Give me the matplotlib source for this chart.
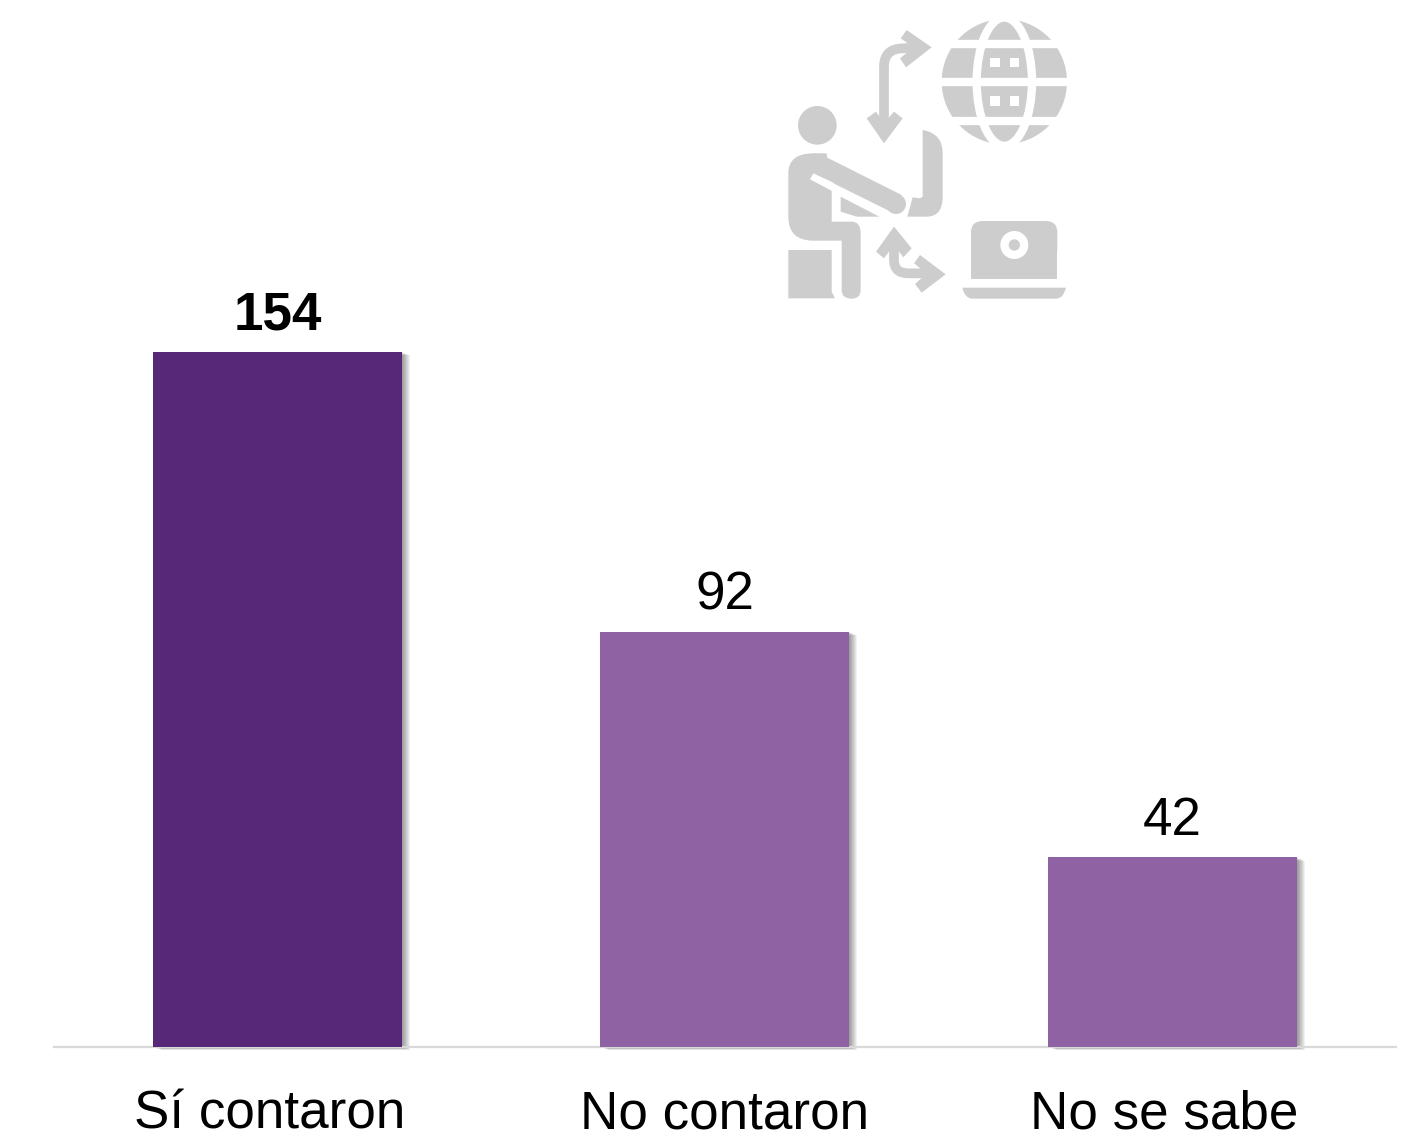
import matplotlib
matplotlib.use("Agg")
import matplotlib.pyplot as plt
from matplotlib.patches import Circle, Ellipse, Polygon, Rectangle, FancyBboxPatch, PathPatch
from matplotlib.path import Path
from matplotlib.transforms import ScaledTranslation

categories = ["Sí contaron", "No contaron", "No se sabe"]
values = [154, 92, 42]
barColors = ["#572878", "#8F62A3", "#8F62A3"]
labelWeights = ["bold", "normal", "normal"]
labelShift = [-7.5, 0, -7.5]  # px, the category labels are not quite centred

W, H = 1409, 1145
plt.rcParams["font.family"] = ["Liberation Sans", "DejaVu Sans"]

fig = plt.figure(figsize=(W / 100, H / 100), dpi=100)
ax = fig.add_axes([54 / W, 1 - 1047 / H, 1342 / W, 1047 / H])

bars = ax.bar(range(3), values, width=0.557, color=barColors, linewidth=0, zorder=3)

# soft shadow to the right of the bars, stacked offset copies
for b in bars:
    for o in range(1, 9):
        off = ax.transData + ScaledTranslation(o / 100, -o * 0.4 / 100, fig.dpi_scale_trans)
        ax.add_patch(Rectangle((b.get_x(), 0), b.get_width(), b.get_height(), fc="black", ec="none",
                               alpha=0.055, transform=off, zorder=2, clip_on=False))

ax.set_xlim(-0.4995, 2.5005)
ax.set_ylim(0, 232)
ax.set_yticks([])
for s in ["top", "left", "right"]:
    ax.spines[s].set_visible(False)
ax.spines["bottom"].set_color("#D9D9D9")
ax.spines["bottom"].set_linewidth(1.6)

ax.set_xticks(range(3), categories, fontsize=38.2, color="black")
ax.tick_params(axis="x", length=0, pad=58.6)
for t, dx in zip(ax.get_xticklabels(), labelShift):
    t.set_verticalalignment("baseline")
    t.set_transform(t.get_transform() + ScaledTranslation(dx / 100, 0, fig.dpi_scale_trans))

for i, v in enumerate(values):
    ax.annotate(str(v), (i, v), xytext=(0, 16.3), textcoords="offset points", ha="center",
                va="baseline", fontsize=38.2, fontweight=labelWeights[i], color="black")

# icon, drawn in its own axes using the coordinates of a 3x crop
ic = fig.add_axes([770 / W, 1 - 310 / H, 310 / W, 300 / H])
ic.set_xlim(0, 930)
ic.set_ylim(900, 0)
ic.axis("off")
GREY = "#CDCDCD"
M, L, C = Path.MOVETO, Path.LINETO, Path.CURVE3


def poly(points, color=GREY):
    ic.add_patch(Polygon(points, closed=True, fc=color, ec="none"))


def shape(points, codes, fc=GREY, ec="none", lw=0):
    ic.add_patch(PathPatch(Path(points, codes), fc=fc, ec=ec, lw=lw, capstyle="butt"))


def rounded(x, y, w, h, r):
    ic.add_patch(FancyBboxPatch((x, y), w, h, boxstyle=f"round,pad=0,rounding_size={r}", fc=GREY, ec="none"))


# globe
ic.add_patch(Circle((703, 215), 188, fc=GREY, ec="none"))
ic.add_patch(Ellipse((703, 215), 166, 385, fc="none", ec="white", lw=6))
for y in (102, 216, 332):
    ic.plot([500, 905], [y, y], color="white", lw=6, solid_capstyle="butt")
for x, y in [(675, 158), (733, 158), (675, 273), (733, 273)]:
    ic.add_patch(Rectangle((x - 14, y - 14), 28, 28, fc="white", ec="none"))

# person
ic.add_patch(Circle((142, 346), 58, fc=GREY, ec="none"))
shape([(55, 490), (55, 430), (130, 430), (170, 430), (185, 540), (185, 635), (245, 635), (272, 635), (272, 670),
       (272, 840), (272, 866), (245, 866), (215, 866), (215, 840), (215, 692), (130, 692), (55, 692), (55, 620),
       (55, 490)],
      [M, C, C, L, L, L, L, C, C, L, C, C, C, C, L, L, C, C, L])
poly([(130, 430), (150, 432), (395, 555), (362, 605), (130, 490)])
ic.add_patch(Circle((378, 582), 30, fc=GREY, ec="none"))
poly([(120, 508), (130, 490), (190, 518), (190, 545)], color="white")
poly([(212, 560), (328, 620), (260, 620), (212, 605)])
poly([(55, 720), (185, 720), (185, 845), (195, 865), (55, 865)])

# chair back
shape([(458, 360), (518, 370), (518, 430), (518, 560), (518, 620), (470, 620), (412, 620), (428, 562), (450, 565),
       (458, 560), (458, 360)],
      [M, C, C, L, C, C, L, L, L, L, Path.CLOSEPOLY])

# arrows
shape([(342, 340), (342, 170), (342, 115), (400, 115), (450, 112)], [M, L, C, C, L], fc="none", ec=GREY, lw=7)
poly([(485, 112), (410, 60), (392, 85), (430, 112), (390, 145), (408, 172)])
poly([(342, 400), (290, 325), (318, 305), (342, 340), (372, 305), (398, 325)])
shape([(372, 700), (372, 750), (372, 790), (415, 790), (490, 790)], [M, L, C, C, L], fc="none", ec=GREY, lw=7)
poly([(372, 650), (318, 725), (342, 745), (372, 705), (400, 742), (425, 715)])
poly([(527, 793), (450, 735), (432, 760), (470, 790), (435, 822), (455, 848)])

# laptop
rounded(603, 633, 259, 120, 35)
ic.add_patch(Rectangle((603, 680), 259, 128, fc=GREY, ec="none"))
ic.add_patch(Circle((733, 705), 42, fc="white", ec="none"))
ic.add_patch(Circle((733, 705), 17, fc=GREY, ec="none"))
shape([(577, 833), (888, 833), (880, 866), (858, 866), (607, 866), (585, 866), (577, 833)], [M, L, C, C, L, C, C])

fig.savefig("out.png", dpi=100)
